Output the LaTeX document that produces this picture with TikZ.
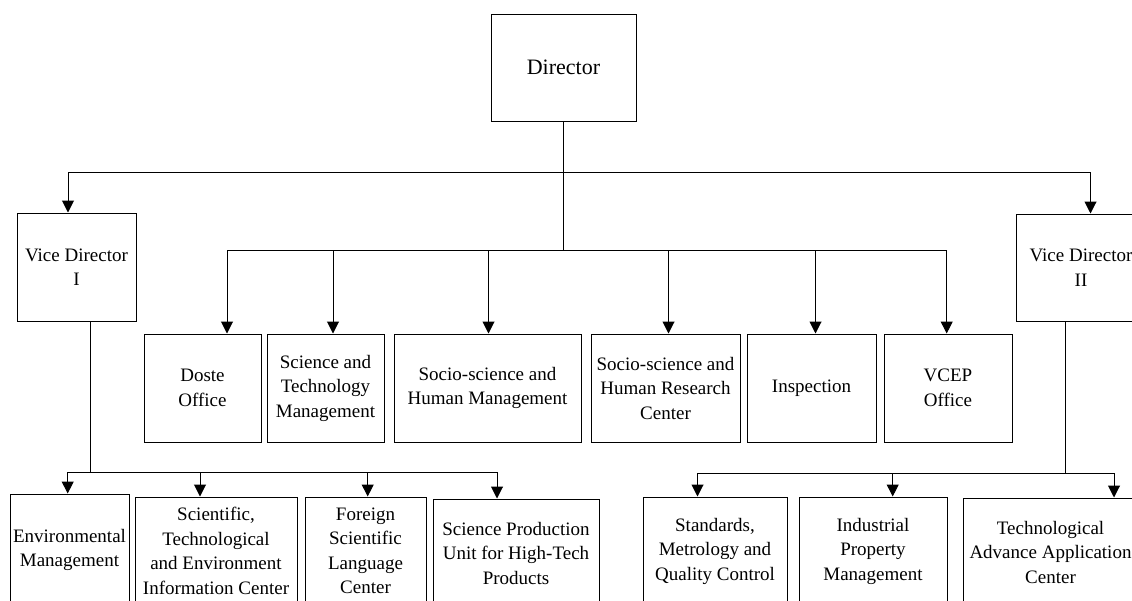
\documentclass[tikz,border=0pt]{standalone}
\usepackage{fontspec}
\setmainfont{Liberation Serif}
\usetikzlibrary{arrows.meta}

\begin{document}
\begin{tikzpicture}[x=1pt,y=-1pt,
  line width=1pt,
  unit/.style={draw, rectangle, inner sep=0pt, align=center,
    font=\fontsize{19pt}{24.5pt}\selectfont},
  arr/.style={-{Triangle[width=12pt,length=12pt]}}]

\useasboundingbox (0,0) rectangle (1132,600);
\clip (0,0) rectangle (1132,600);

% top level
\node[unit, minimum width=145pt, minimum height=107pt,
  font=\fontsize{22pt}{26pt}\selectfont] (dir) at (563.5,67.5) {Director};
\node[unit, minimum width=119pt, minimum height=108pt] (vd1) at (76.5,267) {Vice Director\\I};
\node[unit, minimum width=130pt, minimum height=107pt] (vd2) at (1081,267.5) {Vice Director\\II};

% offices under the director
\node[unit, minimum width=117pt, minimum height=108pt] (doste) at (202.5,388) {Doste\\Office};
\node[unit, minimum width=117pt, minimum height=108pt] (stm) at (325.5,388) {Science and\\Technology\\Management};
\node[unit, minimum width=187pt, minimum height=108pt] (shm) at (487.5,388) {Socio-science and\\Human Management};
\node[unit, minimum width=149pt, minimum height=108pt] (shrc) at (665.5,388) {Socio-science and\\Human Research\\Center};
\node[unit, minimum width=129pt, minimum height=108pt] (insp) at (811.5,388) {Inspection};
\node[unit, minimum width=128pt, minimum height=108pt] (vcep) at (948,388) {VCEP\\Office};

% units under Vice Director I
\node[unit, minimum width=119pt, minimum height=112pt] (env) at (69.5,550) {Environmental\\Management};
\node[unit, minimum width=162pt, minimum height=108pt] (steic) at (216,551) {Scientific,\\Technological\\and Environment\\Information Center};
\node[unit, minimum width=121pt, minimum height=108pt] (fslc) at (365.5,551) {Foreign\\Scientific\\Language\\Center};
\node[unit, minimum width=166pt, minimum height=108pt] (spu) at (516,553) {Science Production\\Unit for High-Tech\\Products};

% units under Vice Director II
\node[unit, minimum width=144pt, minimum height=108pt] (smq) at (715,551) {Standards,\\Metrology and\\Quality Control};
\node[unit, minimum width=148pt, minimum height=108pt] (ipm) at (873,551) {Industrial\\Property\\Management};
\node[unit, minimum width=175pt, minimum height=108pt] (taac) at (1050.5,552) {Technological\\Advance Application\\Center};

% junction points of the buses
\coordinate (j1) at (563.5,172);
\coordinate (j2) at (563.5,250);
\coordinate (jl) at (90,472);
\coordinate (jr) at (1065,473);

% director trunk
\draw (dir.south) -- (j2);
\draw[arr] (j1) -| ([xshift=-8.5pt]vd1.north);
\draw[arr] (j1) -| ([xshift=9.5pt]vd2.north);

% director offices bus
\draw[arr] (j2) -| ([xshift=24.5pt]doste.north);
\draw[arr] (j2) -| ([xshift=7.5pt]stm.north);
\draw[arr] (j2) -| ([xshift=1pt]shm.north);
\draw[arr] (j2) -| ([xshift=3pt]shrc.north);
\draw[arr] (j2) -| ([xshift=4pt]insp.north);
\draw[arr] (j2) -| ([xshift=-1.3pt]vcep.north);

% Vice Director I bus
\draw (vd1.south -| jl) -- (jl);
\draw[arr] (jl) -| ([xshift=-1.8pt]env.north);
\draw[arr] (jl) -| ([xshift=-16pt]steic.north);
\draw[arr] (jl) -| ([xshift=2.2pt]fslc.north);
\draw[arr] (jl) -| ([xshift=-19pt]spu.north);

% Vice Director II bus
\draw (vd2.south -| jr) -- (jr);
\draw[arr] (jr) -| ([xshift=-17.5pt]smq.north);
\draw[arr] (jr) -| ([xshift=19.7pt]ipm.north);
\draw[arr] (jr) -| ([xshift=63.5pt]taac.north);

\end{tikzpicture}
\end{document}
